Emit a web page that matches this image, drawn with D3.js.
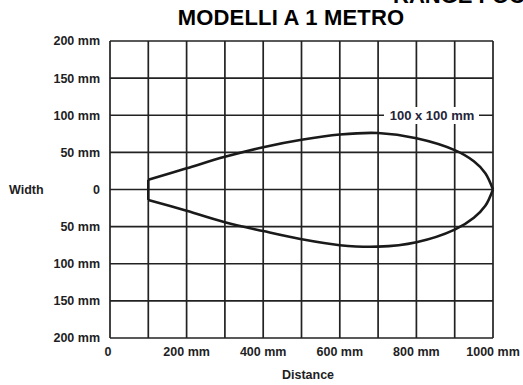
<!DOCTYPE html>
<html lang="en">

<head>
    <meta charset="utf-8">
    <title>Modelli a 1 metro</title>
    <script type="text/javascript" src="https://d3js.org/d3.v7.min.js"></script>
    <style>
        body { margin: 0; background: #fff; }
        text { font-family: "Liberation Sans", Arial, sans-serif; font-weight: bold; fill: #1e1e24; }
    </style>
</head>

<body>
    <div id="container"></div>
    <script type="text/javascript">
        var w = 523;
        var h = 385;

        // ticks and labels
        var xTicks = [0, 200, 400, 600, 800, 1000];
        var xTickLabels = ["0", "200 mm", "400 mm", "600 mm", "800 mm", "1000 mm"];
        var yTicks = [200, 150, 100, 50, 0, -50, -100, -150, -200];
        var yTickLabels = ["200 mm", "150 mm", "100 mm", "50 mm", "0", "50 mm", "100 mm", "150 mm", "200 mm"];

        // beam outline (distance mm, width mm)
        var upperEdge = [[100, 13], [200, 28.5], [300, 44], [400, 57], [500, 67], [600, 74],
            [700, 76], [800, 69], [900, 53], [950, 38], [980, 22], [1000, 0]];
        var lowerEdge = [[100, -14], [200, -28.5], [300, -44], [400, -56], [500, -67], [600, -75],
            [700, -77], [800, -71], [900, -54], [950, -38], [980, -22], [1000, 0]];

        const svg = d3.select("div#container")
            .append("svg")
            .attr("width", w)
            .attr("height", h);

        var x = d3.scaleLinear().domain([0, 1000]).range([110, 493]);
        var y = d3.scaleLinear().domain([-200, 200]).range([338, 41]);

        // grid
        svg.selectAll("line.v")
            .data(d3.range(0, 1001, 100))
            .enter()
            .append("line")
            .attr("class", "v")
            .attr("x1", (d) => x(d)).attr("x2", (d) => x(d))
            .attr("y1", y(200)).attr("y2", y(-200))
            .attr("stroke", "#222").attr("stroke-width", 1.7);

        svg.selectAll("line.h")
            .data(d3.range(-200, 201, 50))
            .enter()
            .append("line")
            .attr("class", "h")
            .attr("x1", x(0)).attr("x2", x(1000))
            .attr("y1", (d) => y(d)).attr("y2", (d) => y(d))
            .attr("stroke", "#222").attr("stroke-width", 1.7);

        // axis labels
        svg.selectAll("text.yl")
            .data(yTicks)
            .enter()
            .append("text")
            .attr("class", "yl")
            .attr("x", 100)
            .attr("y", (d) => y(d))
            .attr("dy", "0.35em")
            .attr("text-anchor", "end")
            .style("font-size", "12.5px")
            .text((d, i) => yTickLabels[i]);

        svg.selectAll("text.xl")
            .data(xTicks)
            .enter()
            .append("text")
            .attr("class", "xl")
            .attr("x", (d) => x(d) - (d == 0 ? 2 : 0))
            .attr("y", 356)
            .attr("text-anchor", "middle")
            .style("font-size", "12.5px")
            .text((d, i) => xTickLabels[i]);

        svg.append("text")
            .attr("x", 9).attr("y", y(0)).attr("dy", "0.35em")
            .style("font-size", "12.5px")
            .text("Width");

        svg.append("text")
            .attr("x", 308).attr("y", 379)
            .attr("text-anchor", "middle")
            .style("font-size", "12.5px")
            .text("Distance");

        // beam outline
        var line = d3.line()
            .x((d) => x(d[0]))
            .y((d) => y(d[1]))
            .curve(d3.curveCatmullRom);

        [upperEdge, lowerEdge].forEach(function (edge) {
            svg.append("path")
                .attr("d", line(edge))
                .attr("fill", "none")
                .attr("stroke", "#1a1a1a")
                .attr("stroke-width", 2.6);
        });

        svg.append("line")
            .attr("x1", x(100)).attr("x2", x(100))
            .attr("y1", y(upperEdge[0][1])).attr("y2", y(lowerEdge[0][1]))
            .attr("stroke", "#1a1a1a").attr("stroke-width", 2.6);

        // target size label
        svg.append("rect")
            .attr("x", 384).attr("y", 107)
            .attr("width", 95).attr("height", 17)
            .attr("fill", "#fff");

        svg.append("text")
            .attr("x", 432).attr("y", y(100)).attr("dy", "0.35em")
            .attr("text-anchor", "middle")
            .style("font-size", "13px")
            .style("fill", "#24243a")
            .text("100 x 100 mm");

        // titles
        svg.append("text")
            .attr("x", 291).attr("y", 25)
            .attr("text-anchor", "middle")
            .style("font-size", "22px")
            .style("letter-spacing", "0.2px")
            .style("fill", "#000")
            .text("MODELLI A 1 METRO");

        svg.append("text")
            .attr("x", 393).attr("y", 3)
            .style("font-size", "22px")
            .style("fill", "#000")
            .text("RANGE FOCUS");
    </script>
</body>

</html>
